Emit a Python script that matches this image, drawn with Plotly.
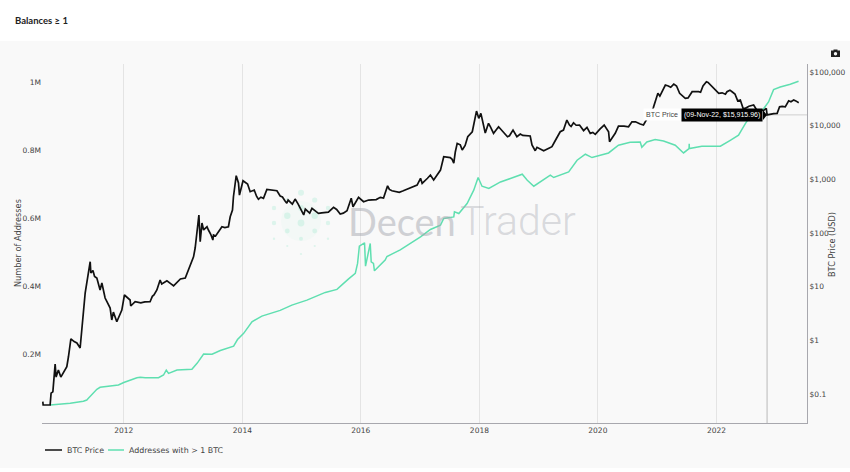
"""Addresses holding more than 1 BTC against the BTC price."""

import plotly.graph_objects as go

price_dates = [
    "2010-08-20", "2010-08-22", "2010-10-04", "2010-10-10", "2010-10-21", "2010-11-04", "2010-11-10", "2010-11-24",
    "2010-12-09", "2011-01-15", "2011-01-25", "2011-02-09", "2011-03-18", "2011-04-07", "2011-04-24", "2011-05-08",
    "2011-06-08", "2011-06-12", "2011-07-19", "2011-08-08", "2011-08-19", "2011-09-08", "2011-10-09", "2011-10-19",
    "2011-10-29", "2011-11-19", "2011-12-20", "2012-01-05", "2012-02-09", "2012-02-13", "2012-03-11", "2012-06-11",
    "2012-07-23", "2012-08-12", "2012-08-22", "2012-09-23", "2012-11-03", "2012-12-15", "2013-01-14", "2013-03-06",
    "2013-03-16", "2013-04-08", "2013-04-16", "2013-04-27", "2013-05-07", "2013-05-28", "2013-07-03", "2013-07-07",
    "2013-08-28", "2013-10-07", "2013-10-18", "2013-11-01", "2013-11-07", "2013-11-24", "2013-12-08", "2013-12-14",
    "2014-01-05", "2014-02-02", "2014-02-18", "2014-03-15", "2014-04-10", "2014-05-11", "2014-06-01", "2014-08-02",
    "2014-08-22", "2014-10-02", "2014-10-10", "2014-11-22", "2015-01-14", "2015-01-24", "2015-03-06", "2015-04-15",
    "2015-05-27", "2015-07-17", "2015-08-27", "2015-10-08", "2015-11-03", "2015-11-14", "2015-12-18", "2016-01-18",
    "2016-02-18", "2016-04-30", "2016-06-14", "2016-07-11", "2016-08-11", "2016-10-12", "2016-12-13", "2017-01-03",
    "2017-01-13", "2017-03-05", "2017-03-25", "2017-05-06", "2017-05-26", "2017-07-17", "2017-07-27", "2017-08-17",
    "2017-09-17", "2017-10-21", "2017-11-18", "2017-12-14", "2017-12-28", "2018-01-10", "2018-02-06", "2018-02-26",
    "2018-03-29", "2018-04-29", "2018-06-23", "2018-07-27", "2018-08-20", "2018-09-10", "2018-11-10", "2018-11-21",
    "2018-12-11", "2018-12-22", "2019-02-01", "2019-03-24", "2019-04-13", "2019-05-14", "2019-06-03", "2019-06-24",
    "2019-07-10", "2019-08-04", "2019-09-25", "2019-10-26", "2019-11-15", "2019-12-16", "2020-02-09", "2020-03-07",
    "2020-03-13", "2020-04-17", "2020-05-07", "2020-07-08", "2020-07-29", "2020-09-18", "2020-10-08", "2020-12-07",
    "2021-01-05", "2021-01-17", "2021-02-20", "2021-04-13", "2021-05-19", "2021-06-23", "2021-08-04", "2021-09-13",
    "2021-10-31", "2021-12-05", "2022-01-15", "2022-03-07", "2022-04-07", "2022-05-28", "2022-06-14", "2022-06-28",
    "2022-08-18", "2022-09-18", "2022-10-19", "2022-11-04", "2022-11-09", "2022-12-20", "2023-01-10", "2023-01-25",
    "2023-03-01", "2023-03-22", "2023-04-22", "2023-05-23",
]
price_values = [
    0.072, 0.0625, 0.0625, 0.104, 0.11, 0.36, 0.207, 0.28,
    0.207, 0.323, 0.495, 1.07, 0.893, 0.72, 2.39, 7.6,
    29.2, 18, 14.5, 8.7, 11.7, 6.15, 4.0, 2.4,
    3.37, 2.22, 3.67, 7.0, 5.65, 4.37, 5.25, 5.25,
    8.7, 13.3, 11.2, 12.9, 10.4, 13.9, 14.5, 36,
    52.6, 217, 69, 154, 114, 131, 74, 92,
    131, 131, 201, 268, 475, 1170, 855, 510,
    944, 818, 589, 632, 425, 444, 652, 614,
    490, 358, 412, 430, 217, 280, 288, 233,
    239, 301, 226, 261, 444, 309, 462, 383,
    412, 462, 760, 614, 589, 652, 785, 1045,
    843, 1205, 973, 1490, 2640, 2360, 2015, 4690,
    3520, 6220, 7720, 18750, 13700, 17000, 7300, 11070,
    7210, 9570, 6220, 8300, 6220, 7000, 6430, 4365,
    3420, 3950, 3420, 4060, 5250, 7720, 8300, 12760,
    10300, 11350, 8930, 9330, 7210, 6900, 10300, 7720,
    5030, 7210, 9860, 9570, 11860, 10750, 10300, 21300,
    40100, 35700, 57300, 59700, 40100, 32400, 43000, 43000,
    65900, 53200, 40100, 43000, 43000, 30100, 21100, 21100,
    24300, 19600, 19300, 21100, 15916, 16800, 17000, 22500,
    22500, 29200, 30100, 26800,
]

# smaller swings between the main turning points
price_detail_dates = [
    "2011-03-01", "2011-06-25", "2011-07-05", "2011-09-20", "2012-04-15", "2012-05-10", "2012-06-25", "2012-07-05",
    "2012-10-10", "2012-10-20", "2012-11-20", "2013-02-05", "2013-02-20", "2013-06-05", "2013-06-20", "2013-07-20",
    "2013-08-10", "2013-09-15", "2014-01-20", "2014-03-01", "2014-03-30", "2014-04-25", "2014-06-20", "2014-07-10",
    "2014-09-05", "2014-09-20", "2014-11-05", "2014-12-10", "2015-02-20", "2015-04-01", "2015-05-05", "2015-06-15",
    "2015-08-05", "2015-09-15", "2016-03-10", "2016-04-05", "2016-05-20", "2016-06-25", "2016-08-25", "2016-09-15",
    "2016-11-10", "2017-02-15", "2017-04-15", "2017-06-20", "2017-07-05", "2017-08-05", "2017-09-05", "2017-10-05",
    "2018-03-10", "2018-05-20", "2018-07-05", "2018-09-25", "2018-10-10", "2019-01-10", "2019-03-05", "2019-07-20",
    "2019-08-20", "2019-09-10", "2019-10-05", "2019-12-01", "2020-01-15", "2020-06-10", "2020-08-20", "2021-03-10",
    "2021-03-25", "2021-04-30", "2021-06-05", "2021-07-10", "2021-09-25", "2021-10-10", "2021-11-10", "2021-12-20",
    "2022-02-05", "2022-02-25", "2022-03-25", "2022-04-25", "2022-05-12", "2022-07-20", "2022-09-05", "2023-02-10",
    "2023-04-05", "2023-05-05",
]
price_detail_values = [
    0.95, 20, 15.5, 5.2, 5.0, 5.2, 6.6, 7.0,
    12, 11.2, 11.5, 21, 28, 115, 95, 88,
    112, 126, 880, 610, 480, 465, 640, 625,
    470, 400, 345, 350, 235, 250, 238, 245,
    275, 235, 415, 420, 450, 650, 575, 608,
    705, 1050, 1200, 2600, 2550, 3200, 4400, 4300,
    9500, 8200, 6500, 6600, 6500, 3700, 3800, 9700,
    10200, 10300, 8100, 7500, 8700, 9800, 11800, 55000,
    52000, 55000, 36000, 33000, 42000, 55000, 64000, 47000,
    41000, 38500, 46000, 39000, 29000, 23000, 19800, 23000,
    28000, 29000,
]

address_dates = [
    "2010-10-04", "2011-02-05", "2011-04-27", "2011-05-18", "2011-05-28", "2011-06-20", "2011-07-19", "2011-08-08",
    "2011-11-29", "2012-01-01", "2012-03-22", "2012-04-12", "2012-05-12", "2012-08-02", "2012-09-02", "2012-09-19",
    "2012-10-03", "2012-11-24", "2013-02-24", "2013-03-29", "2013-05-07", "2013-06-28", "2013-08-18", "2013-11-08",
    "2013-12-02", "2014-01-09", "2014-03-01", "2014-05-01", "2014-06-21", "2014-08-22", "2014-11-02", "2015-02-03",
    "2015-05-27", "2015-08-07", "2015-10-16", "2015-11-28", "2015-12-12", "2015-12-23", "2016-01-24", "2016-01-30",
    "2016-02-28", "2016-03-05", "2016-03-19", "2016-03-25", "2016-05-30", "2016-06-10", "2016-08-31", "2017-01-03",
    "2017-03-05", "2017-05-06", "2017-05-26", "2017-07-27", "2017-07-31", "2017-08-27", "2017-10-17", "2017-11-27",
    "2017-12-24", "2018-01-17", "2018-02-28", "2018-05-11", "2018-07-11", "2018-09-22", "2018-10-23", "2018-12-02",
    "2019-03-14", "2019-04-04", "2019-07-05", "2019-08-26", "2019-10-16", "2019-11-26", "2020-03-07", "2020-05-07",
    "2020-07-18", "2020-09-18", "2020-09-28", "2020-10-29", "2020-12-19", "2021-02-09", "2021-04-22", "2021-06-12",
    "2021-07-16", "2021-07-17", "2021-07-18", "2021-10-03", "2022-01-25", "2022-03-27", "2022-05-17", "2022-06-28",
    "2022-08-10", "2022-10-16", "2022-11-18", "2022-12-19", "2023-01-29", "2023-04-01", "2023-05-22",
]
address_values = [
    52700, 57700, 63600, 67400, 72400, 85000, 98800, 104600,
    111400, 118700, 132800, 134000, 132800, 132800, 140700, 155300,
    145600, 155300, 157400, 175800, 202200, 201600, 212500, 225600,
    244700, 262900, 296900, 313600, 320900, 330300, 345800, 360500,
    383000, 391800, 422000, 438700, 468000, 518700, 528400, 460100,
    526600, 472700, 468000, 446300, 477700, 488500, 507900, 546000,
    567600, 580200, 599900, 604600, 619200, 614500, 643800, 682800,
    720000, 694500, 687800, 707100, 717100, 729700, 712100, 694500,
    726800, 720000, 736500, 770700, 788300, 778600, 792100, 814700,
    823500, 824300, 808800, 824300, 831400, 827300, 814700, 792100,
    805000, 819100, 805000, 811800, 811800, 829300, 844000, 878300,
    908500, 920200, 941600, 977900, 985500, 993400, 1002200,
]

left_ticks = [200000, 400000, 600000, 800000, 1000000]
left_labels = ["0.2M", "0.4M", "0.6M", "0.8M", "1M"]
right_ticks = [0.1, 1, 10, 100, 1000, 10000, 100000]
right_labels = ["$0.1", "$1", "$10", "$100", "$1,000", "$10,000", "$100,000"]
year_ticks = ["2012-01-01", "2014-01-01", "2016-01-01", "2018-01-01", "2020-01-01", "2022-01-01"]
year_labels = ["2012", "2014", "2016", "2018", "2020", "2022"]

hover_date = "2022-11-09"
hover_price = 15915.96
hover_text = "(09-Nov-22, $15,915.96)"
x_start = "2010-08-15"
x_end = "2023-07-13"

BLACK_LINE = "#111111"
GREEN_LINE = "#5fdfb0"
WIDTH, HEIGHT = 850, 472
LEFT, RIGHT, TOP, BOTTOM = 42, 807, 64, 423
TICK_FONT = dict(family="DejaVu Sans", size=7.5, color="#444444")
TITLE_FONT = dict(family="DejaVu Sans", size=8.2, color="#444444")


def px(x):
    return (x - LEFT) / (RIGHT - LEFT)


def py(y):
    return (BOTTOM - y) / (BOTTOM - TOP)


def page_text(text, x, y, font, xanchor="left", **kwargs):
    return dict(text=text, xref="paper", yref="paper", x=px(x), y=py(y), xanchor=xanchor,
                yanchor="middle", showarrow=False, font=font, **kwargs)


def legend_line(x0, x1, color):
    return dict(type="line", xref="paper", yref="paper", x0=px(x0), x1=px(x1), y0=py(450), y1=py(450),
                line=dict(color=color, width=1.5))


# logo dots behind the lines: pixel x, pixel y, radius
logo_dots = [
    (301, 192.7, 3), (314.7, 200, 2.6), (328, 208, 2.2), (274, 208, 2.2), (287.3, 200, 1.8), (301, 208, 3),
    (287.3, 215.7, 3.2), (301, 223, 3.4), (314.7, 215.7, 3.2), (274, 223, 2.2), (328, 223, 2.2),
    (287.3, 231, 2.4), (314.7, 231, 2.4), (274, 238.7, 1.2), (301, 238.7, 2), (328, 238.7, 1.2),
    (287.3, 246, 1.1), (314.7, 246, 1.1), (301, 254, 1.1),
]

shapes = [
    # grey panel behind the whole chart
    dict(type="rect", xref="paper", yref="paper", x0=px(0), x1=px(850), y0=py(468), y1=py(41),
         fillcolor="#f9f9f9", line_width=0, layer="below"),
    dict(type="circle", xref="paper", yref="paper", x0=px(281), x1=px(321), y0=py(241), y1=py(201),
         fillcolor="rgba(95,223,176,0.04)", line_width=0, layer="below"),
]
for dx, dy, r in logo_dots:
    shapes.append(dict(type="circle", xref="paper", yref="paper", x0=px(dx - r), x1=px(dx + r),
                       y0=py(dy + r), y1=py(dy - r), fillcolor="rgba(95,223,176,0.18)",
                       line_width=0, layer="below"))

# camera icon, hover box tip and the legend keys
shapes += [
    dict(type="rect", xref="paper", yref="paper", x0=px(831), x1=px(840), y0=py(57), y1=py(50.5),
         fillcolor="#222222", line_width=0),
    dict(type="rect", xref="paper", yref="paper", x0=px(833.5), x1=px(837.5), y0=py(51), y1=py(49.5),
         fillcolor="#222222", line_width=0),
    dict(type="circle", xref="paper", yref="paper", x0=px(833.8), x1=px(837.2), y0=py(55.5), y1=py(52),
         fillcolor="#f9f9f9", line_width=0),
    dict(type="path", xref="paper", yref="paper",
         path=f"M {px(763)} {py(110)} L {px(767)} {py(115)} L {px(763)} {py(120)} Z",
         fillcolor="#000000", line_width=0),
    legend_line(45, 62, BLACK_LINE),
    legend_line(108, 124, GREEN_LINE),
]

hover_font = dict(family="Liberation Sans", size=7, color="#ffffff")
label_font = dict(family="Liberation Sans", size=7, color="#444444")
legend_font = dict(family="DejaVu Sans", size=7.9, color="#444444")

annotations = [
    page_text("<b>Balances ≥ 1</b>", 13, 20.5, dict(family="Lato", size=9.5, color="#222222")),
    # see-through so the lines still show under the watermark
    page_text("Decen", 458, 221, dict(family="Lato", size=38, color="rgba(165,167,175,0.5)"), xanchor="right"),
    page_text("Trader", 458, 221, dict(family="Roboto", size=41, weight=300, color="rgba(165,167,175,0.4)")),
    page_text(hover_text, 763, 115, hover_font, xanchor="right", bgcolor="#000000", borderpad=2),
    page_text("BTC Price", 681, 115, label_font, xanchor="right", bgcolor="#ffffff", borderpad=2),
    page_text("BTC Price", 65, 450, legend_font),
    page_text("Addresses with > 1 BTC", 127, 450, legend_font),
    page_text("Number of Addresses", 18, 243, TITLE_FONT, xanchor="center", textangle=-90),
    page_text("BTC Price (USD)", 832, 245, TITLE_FONT, xanchor="center", textangle=-90),
]

# merge the turning points and the smaller swings into date order
price_points = sorted(zip(price_dates + price_detail_dates, price_values + price_detail_values))

fig = go.Figure()

# crosshair lines for the hovered point
fig.add_trace(go.Scatter(x=[hover_date, hover_date], y=[0.01, hover_price], yaxis="y2", mode="lines",
                         line=dict(color="#cfcfcf", width=1.5), hoverinfo="skip"))
fig.add_trace(go.Scatter(x=[hover_date, x_end], y=[hover_price, hover_price], yaxis="y2", mode="lines",
                         line=dict(color="#cfcfcf", width=1), hoverinfo="skip"))

fig.add_trace(go.Scatter(x=[p[0] for p in price_points], y=[p[1] for p in price_points], name="BTC Price",
                         yaxis="y2", mode="lines", line=dict(color=BLACK_LINE, width=1.7)))
fig.add_trace(go.Scatter(x=address_dates, y=address_values, name="Addresses with > 1 BTC", mode="lines",
                         line=dict(color=GREEN_LINE, width=1.5)))

fig.update_layout(
    width=WIDTH,
    height=HEIGHT,
    margin=dict(l=LEFT, r=WIDTH - RIGHT, t=TOP, b=HEIGHT - BOTTOM, autoexpand=False),
    paper_bgcolor="#ffffff",
    plot_bgcolor="rgba(0,0,0,0)",
    showlegend=False,
    shapes=shapes,
    annotations=annotations,
    xaxis=dict(
        range=[x_start, x_end], tickvals=year_ticks, ticktext=year_labels, tickfont=TICK_FONT,
        showgrid=True, gridcolor="#e4e4e4", gridwidth=1, showline=True, linecolor="#a8a8ae", linewidth=1.2,
        zeroline=False, ticks="",
    ),
    yaxis=dict(
        range=[0, 1053000], tickvals=left_ticks, ticktext=left_labels, tickfont=TICK_FONT,
        showgrid=False, zeroline=False, showline=False, ticks="",
    ),
    yaxis2=dict(
        type="log", range=[-1.54, 5.15], overlaying="y", side="right", tickvals=right_ticks, ticktext=right_labels,
        tickfont=TICK_FONT, showgrid=False, zeroline=False, showline=True, linecolor="#a8a8ae", linewidth=1.2,
        ticks="",
    ),
)

fig.write_html("out.html", config={"displayModeBar": False}, post_script="document.body.style.margin='0';")
